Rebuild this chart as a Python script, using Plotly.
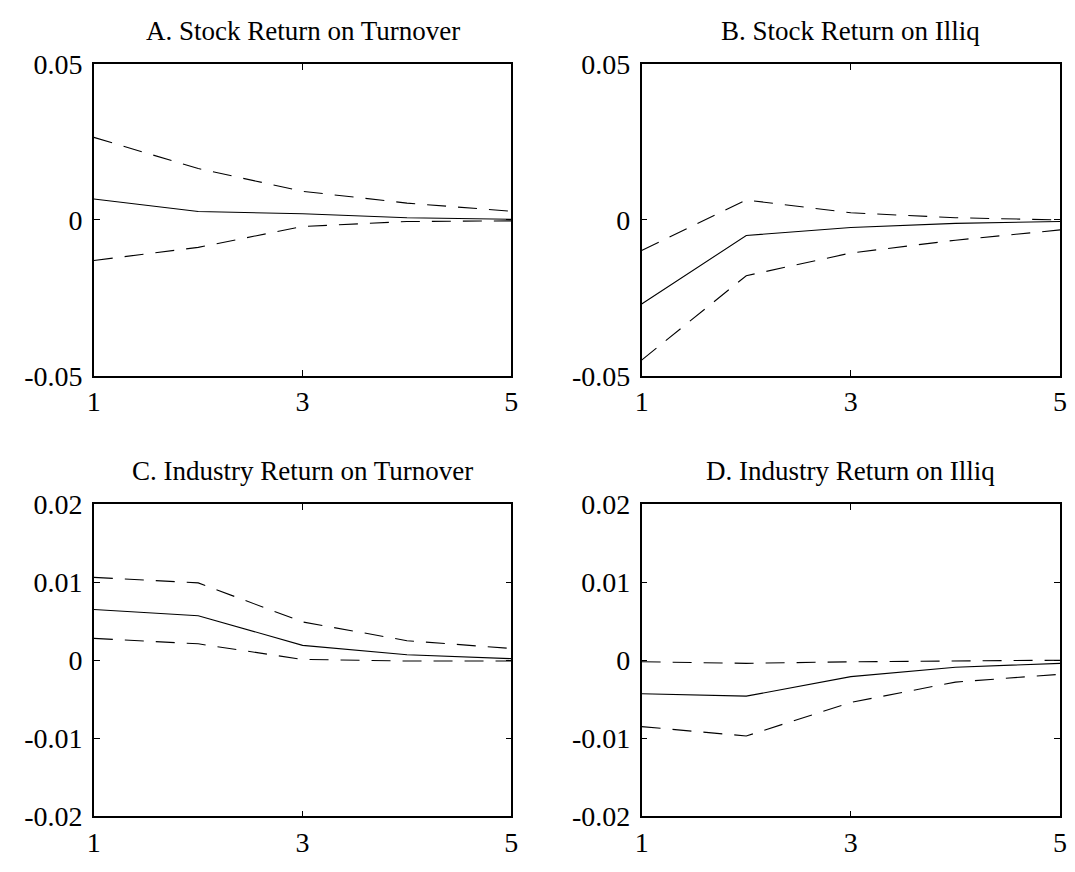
import plotly.graph_objects as go

# Horizons of the impulse responses
horizon = [1, 2, 3, 4, 5]

# A. Stock return on turnover
a_upper = [0.0265, 0.0165, 0.0092, 0.0054, 0.0028]
a_point = [0.0067, 0.0027, 0.0020, 0.0007, 0.0002]
a_lower = [-0.0130, -0.0088, -0.0021, -0.0005, -0.0003]

# B. Stock return on Illiq
b_upper = [-0.0098, 0.0064, 0.0023, 0.0007, 0.0000]
b_point = [-0.0270, -0.0050, -0.0024, -0.0011, -0.0005]
b_lower = [-0.0450, -0.0179, -0.0106, -0.0065, -0.0032]

# C. Industry return on turnover
c_upper = [0.0106, 0.0099, 0.0049, 0.0025, 0.0015]
c_point = [0.0065, 0.0057, 0.0019, 0.0007, 0.0002]
c_lower = [0.0028, 0.0021, 0.0001, -0.0001, -0.0001]

# D. Industry return on Illiq
d_upper = [-0.0002, -0.0004, -0.0002, -0.0001, 0.0000]
d_point = [-0.0043, -0.0046, -0.0021, -0.0009, -0.0004]
d_lower = [-0.0085, -0.0097, -0.0054, -0.0028, -0.0018]

titles = [
    "A. Stock Return on Turnover",
    "B. Stock Return on Illiq",
    "C. Industry Return on Turnover",
    "D. Industry Return on Illiq",
]

x_ticks = [1, 3, 5]
top_yticks = [-0.05, 0, 0.05]
top_yticktext = ["-0.05", "0", "0.05"]
bottom_yticks = [-0.02, -0.01, 0, 0.01, 0.02]
bottom_yticktext = ["-0.02", "-0.01", "0", "0.01", "0.02"]

W, H = 1075, 872
FONT = "Liberation Serif"

# panel boxes in pixels: (left, right), (top, bottom)
panels = [
    (a_upper, a_point, a_lower, (88, 511), (51, 374), top_yticks, top_yticktext),
    (b_upper, b_point, b_lower, (643, 1067), (51, 374), top_yticks, top_yticktext),
    (c_upper, c_point, c_lower, (88, 511), (507, 831), bottom_yticks, bottom_yticktext),
    (d_upper, d_point, d_lower, (643, 1067), (507, 831), bottom_yticks, bottom_yticktext),
]

fig = go.Figure()
layout = dict(
    width=W, height=H,
    margin=dict(l=0, r=0, t=0, b=0),
    paper_bgcolor="white", plot_bgcolor="white",
    showlegend=False,
    font=dict(family=FONT, size=28, color="black"),
    annotations=[],
)

for i, (up, pt, lo, (x0, x1), (y0, y1), yt, ytt) in enumerate(panels, start=1):
    xa = "x" if i == 1 else f"x{i}"
    ya = "y" if i == 1 else f"y{i}"
    for vals, dash in ((up, "19px,12px"), (pt, "solid"), (lo, "19px,12px")):
        fig.add_trace(go.Scatter(
            x=horizon, y=vals, mode="lines", xaxis=xa, yaxis=ya,
            line=dict(color="black", width=1.1, dash=dash),
            hoverinfo="skip",
        ))
    common = dict(
        showline=True, linecolor="black", linewidth=1.6, mirror="ticks",
        ticks="inside", ticklen=6, tickwidth=1, tickcolor="black",
        showgrid=False, zeroline=False,
        tickfont=dict(family=FONT, size=28, color="black"),
    )
    layout["xaxis" if i == 1 else f"xaxis{i}"] = dict(
        common, domain=[x0 / W, x1 / W], range=[1, 5],
        tickvals=x_ticks, ticktext=[str(v) for v in x_ticks],
        anchor=ya,
    )
    layout["yaxis" if i == 1 else f"yaxis{i}"] = dict(
        common, domain=[1 - y1 / H, 1 - y0 / H], range=[yt[0], yt[-1]],
        tickvals=yt, ticktext=ytt, anchor=xa, ticklabelstandoff=4,
    )
    layout["annotations"].append(dict(
        text=titles[i - 1], xref="paper", yref="paper",
        x=(x0 + x1) / 2 / W, y=1 - (y0 - 17) / H,
        xanchor="center", yanchor="bottom", showarrow=False,
        font=dict(family=FONT, size=27, color="black"),
    ))

fig.update_layout(**layout)
fig.write_html("out.html")
